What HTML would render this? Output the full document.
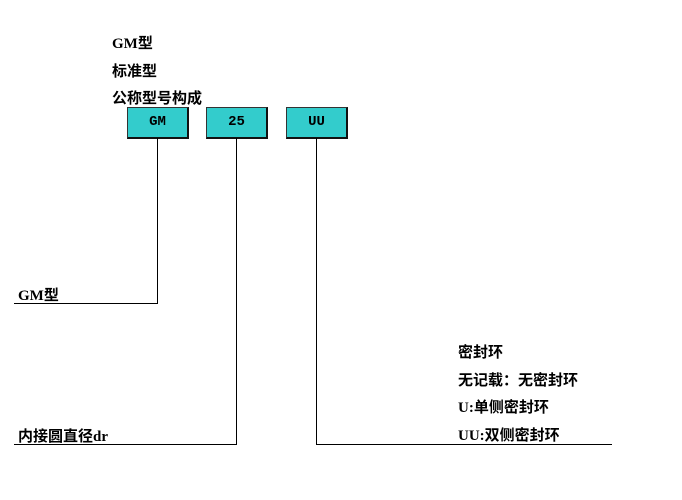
<!DOCTYPE html>
<html><head><meta charset="utf-8"><style>
body{margin:0;width:682px;height:500px;background:#fff;position:relative;overflow:hidden;font-family:"Liberation Serif","Noto Sans CJK SC",serif;font-weight:bold;font-size:15px;color:#000}
.t{position:absolute;white-space:nowrap;line-height:16px}
.b{position:absolute;top:107px;width:59px;height:29px;background:#33cccc;border:1px solid #333;border-right:2px solid #111;border-bottom:2px solid #111;text-align:center;line-height:29px;font-family:"Liberation Mono",monospace;font-size:14px}
.v{position:absolute;width:1px;background:#000}
.h{position:absolute;height:1px;background:#000}
</style></head><body>
<div class="t" style="left:112px;top:36px">GM型</div>
<div class="t" style="left:112px;top:64px">标准型</div>
<div class="t" style="left:112px;top:91px">公称型号构成</div>
<div class="b" style="left:127px">GM</div>
<div class="b" style="left:206px">25</div>
<div class="b" style="left:286px">UU</div>
<div class="v" style="left:157px;top:138px;height:166px"></div>
<div class="h" style="left:14px;top:303px;width:144px"></div>
<div class="v" style="left:236px;top:138px;height:307px"></div>
<div class="h" style="left:14px;top:444px;width:223px"></div>
<div class="v" style="left:316px;top:138px;height:307px"></div>
<div class="h" style="left:316px;top:444px;width:296px"></div>
<div class="t" style="left:18px;top:288px">GM型</div>
<div class="t" style="left:18px;top:429px">内接圆直径dr</div>
<div class="t" style="left:458px;top:345px">密封环</div>
<div class="t" style="left:458px;top:373px">无记载：无密封环</div>
<div class="t" style="left:458px;top:400px">U:单侧密封环</div>
<div class="t" style="left:458px;top:428px">UU:双侧密封环</div>
</body></html>
